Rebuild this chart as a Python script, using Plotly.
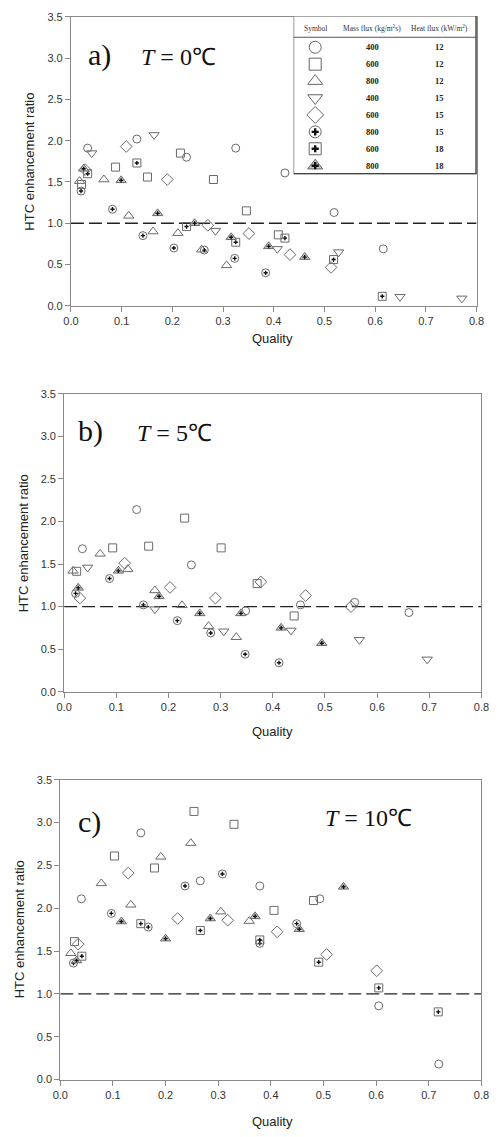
import plotly.graph_objects as go

W, H = 502, 1137

# ---------------- data (Quality, HTC enhancement ratio) ----------------
# series keys: s1 G400/q12 circle, s2 G600/q12 square, s3 G800/q12 triangle-up,
# s4 G400/q15 triangle-down, s5 G600/q15 diamond, s6 G800/q15 circle+,
# s7 G600/q18 square+, s8 G800/q18 triangle+

# Panel a) T = 0 C
a_s1_x = [0.033, 0.130, 0.228, 0.325, 0.422, 0.519, 0.616]
a_s1_y = [1.91, 2.02, 1.80, 1.91, 1.61, 1.13, 0.69]
a_s2_x = [0.021, 0.088, 0.151, 0.216, 0.281, 0.346, 0.409]
a_s2_y = [1.47, 1.68, 1.56, 1.85, 1.53, 1.15, 0.86]
a_s3_x = [0.017, 0.065, 0.114, 0.162, 0.211, 0.258, 0.307]
a_s3_y = [1.51, 1.53, 1.09, 0.90, 0.88, 0.68, 0.49]
a_s4_x = [0.041, 0.164, 0.285, 0.407, 0.528, 0.649, 0.771]
a_s4_y = [1.85, 2.07, 0.91, 0.69, 0.65, 0.11, 0.09]
a_s5_x = [0.028, 0.109, 0.190, 0.270, 0.351, 0.432, 0.513]
a_s5_y = [1.65, 1.93, 1.53, 0.975, 0.875, 0.62, 0.465]
a_s6_x = [0.020, 0.082, 0.142, 0.203, 0.263, 0.323, 0.384]
a_s6_y = [1.39, 1.17, 0.85, 0.70, 0.675, 0.575, 0.40]
a_s7_x = [0.033, 0.130, 0.228, 0.325, 0.422, 0.518, 0.614]
a_s7_y = [1.60, 1.73, 0.96, 0.77, 0.82, 0.56, 0.115]
a_s8_x = [0.025, 0.099, 0.171, 0.244, 0.316, 0.390, 0.461]
a_s8_y = [1.66, 1.52, 1.12, 1.00, 0.83, 0.72, 0.59]

# Panel b) T = 5 C
b_s1_x = [0.035, 0.139, 0.244, 0.348, 0.453, 0.557, 0.661]
b_s1_y = [1.68, 2.14, 1.49, 0.95, 1.02, 1.05, 0.93]
b_s2_x = [0.024, 0.093, 0.162, 0.231, 0.301, 0.370, 0.441]
b_s2_y = [1.415, 1.69, 1.71, 2.04, 1.69, 1.27, 0.89]
b_s3_x = [0.017, 0.069, 0.122, 0.174, 0.226, 0.277, 0.330]
b_s3_y = [1.42, 1.62, 1.44, 1.19, 1.015, 0.77, 0.64]
b_s4_x = [0.045, 0.174, 0.306, 0.435, 0.566, 0.696]
b_s4_y = [1.46, 0.97, 0.71, 0.72, 0.61, 0.38]
b_s5_x = [0.030, 0.116, 0.203, 0.290, 0.377, 0.463, 0.550]
b_s5_y = [1.10, 1.51, 1.225, 1.10, 1.29, 1.13, 1.00]
b_s6_x = [0.022, 0.087, 0.152, 0.217, 0.281, 0.347, 0.412]
b_s6_y = [1.155, 1.33, 1.02, 0.835, 0.69, 0.44, 0.34]
b_s7_x = []
b_s7_y = []
b_s8_x = [0.027, 0.104, 0.182, 0.260, 0.339, 0.416, 0.494]
b_s8_y = [1.22, 1.42, 1.12, 0.92, 0.92, 0.75, 0.57]

# Panel c) T = 10 C
c_s1_x = [0.040, 0.153, 0.266, 0.379, 0.493, 0.605, 0.719]
c_s1_y = [2.11, 2.88, 2.32, 2.26, 2.11, 0.86, 0.18]
c_s2_x = [0.027, 0.103, 0.179, 0.254, 0.330, 0.406, 0.481]
c_s2_y = [1.61, 2.61, 2.47, 3.13, 2.98, 1.975, 2.09]
c_s3_x = [0.020, 0.078, 0.134, 0.191, 0.248, 0.305, 0.359]
c_s3_y = [1.475, 2.29, 2.04, 2.60, 2.76, 1.96, 1.85]
c_s4_x = []
c_s4_y = []
c_s5_x = [0.034, 0.129, 0.223, 0.318, 0.412, 0.506, 0.601]
c_s5_y = [1.58, 2.41, 1.88, 1.86, 1.725, 1.46, 1.27]
c_s6_x = [0.025, 0.097, 0.167, 0.237, 0.308, 0.379, 0.449]
c_s6_y = [1.36, 1.94, 1.78, 2.26, 2.40, 1.59, 1.82]
c_s7_x = [0.041, 0.153, 0.266, 0.379, 0.491, 0.605, 0.718]
c_s7_y = [1.44, 1.82, 1.74, 1.63, 1.37, 1.07, 0.79]
c_s8_x = [0.031, 0.116, 0.200, 0.285, 0.370, 0.454, 0.538]
c_s8_y = [1.39, 1.845, 1.645, 1.88, 1.905, 1.755, 2.25]

# legend table
mass_flux = ["400", "600", "800", "400", "600", "800", "600", "800"]
heat_flux = ["12", "12", "12", "15", "15", "15", "18", "18"]

panel_labels = ["a)", "b)", "c)"]
panel_temps = ["0", "5", "10"]
reference_ratio = 1.0
x_ticks = [0.0, 0.1, 0.2, 0.3, 0.4, 0.5, 0.6, 0.7, 0.8]
y_ticks = [0.0, 0.5, 1.0, 1.5, 2.0, 2.5, 3.0, 3.5]

# ---------------- styles ----------------
symbols = ["circle-open", "square-open", "triangle-up-open", "triangle-down-open",
           "diamond-open", "circle-open", "square-open", "triangle-up"]
sizes = [8, 8, 9, 9, 9, 8, 8, 9]
has_plus = [False, False, False, False, False, True, True, True]
MC = "#6a6a6a"

panels = [
    [(a_s1_x, a_s1_y), (a_s2_x, a_s2_y), (a_s3_x, a_s3_y), (a_s4_x, a_s4_y),
     (a_s5_x, a_s5_y), (a_s6_x, a_s6_y), (a_s7_x, a_s7_y), (a_s8_x, a_s8_y)],
    [(b_s1_x, b_s1_y), (b_s2_x, b_s2_y), (b_s3_x, b_s3_y), (b_s4_x, b_s4_y),
     (b_s5_x, b_s5_y), (b_s6_x, b_s6_y), (b_s7_x, b_s7_y), (b_s8_x, b_s8_y)],
    [(c_s1_x, c_s1_y), (c_s2_x, c_s2_y), (c_s3_x, c_s3_y), (c_s4_x, c_s4_y),
     (c_s5_x, c_s5_y), (c_s6_x, c_s6_y), (c_s7_x, c_s7_y), (c_s8_x, c_s8_y)],
]

# pixel boxes of the three plot areas (left, right, top, bottom)
boxes = [(65, 484, 11, 303), (58, 489, 392, 693), (54, 489, 782, 1085)]
ytitle_x = [22, 16, 12]
title_y = [336, 733, 1127]
label_pos = [((94, 50), (176, 52)), ((85, 430), (172, 432)), ((84, 825), (372, 821))]

fig = go.Figure()

def px(x):
    return x / W

def py(y):
    return 1 - y / H

for p, series in enumerate(panels):
    xa = "x" if p == 0 else f"x{p+1}"
    ya = "y" if p == 0 else f"y{p+1}"
    xr = [0, max(x_ticks)]
    fig.add_trace(go.Scatter(x=xr, y=[reference_ratio, reference_ratio], mode="lines",
                             line=dict(color="#222", width=1.4, dash="13px,5px"),
                             xaxis=xa, yaxis=ya, showlegend=False, hoverinfo="skip"))
    for i, (sx, sy) in enumerate(series):
        if not sx:
            continue
        mk = dict(symbol=symbols[i], size=sizes[i], color=MC, line=dict(color=MC, width=1))
        if symbols[i] == "triangle-up":
            mk["color"] = "#c8c8c8"
        fig.add_trace(go.Scatter(x=sx, y=sy, mode="markers", marker=mk,
                                 xaxis=xa, yaxis=ya, showlegend=False))
        if has_plus[i]:
            fig.add_trace(go.Scatter(x=sx, y=sy, mode="markers",
                                     marker=dict(symbol="cross", size=3.5, color="#111",
                                                 line=dict(width=0)),
                                     xaxis=xa, yaxis=ya, showlegend=False))

axis_common = dict(showline=True, linecolor="#8a8a8a", linewidth=1, mirror=True,
                   ticks="outside", ticklen=5, tickcolor="#8a8a8a", showgrid=False,
                   zeroline=False, tickfont=dict(family="Liberation Sans", size=11, color="#333"))

layout = dict(width=W, height=H, margin=dict(l=0, r=0, t=0, b=0),
              plot_bgcolor="white", paper_bgcolor="white", showlegend=False)

for p, (l, r, t, b) in enumerate(boxes):
    xk = "xaxis" if p == 0 else f"xaxis{p+1}"
    yk = "yaxis" if p == 0 else f"yaxis{p+1}"
    anchor_x = "y" if p == 0 else f"y{p+1}"
    anchor_y = "x" if p == 0 else f"x{p+1}"
    layout[xk] = dict(axis_common, domain=[px(l), px(r)], range=[0, 0.8], tickvals=x_ticks,
                      tickformat=".1f", anchor=anchor_x)
    layout[yk] = dict(axis_common, domain=[py(b), py(t)], range=[0, 3.5], tickvals=y_ticks,
                      tickformat=".1f", anchor=anchor_y)

# legend table axis (rows indexed 0..7)
TL, TR, TT, TB = 295, 484, 10, 170
row0, rstep = 41.7, 17.1
y_top = (TT - row0) / rstep
y_bot = (TB - row0) / rstep
layout["xaxis4"] = dict(domain=[px(TL), px(TR)], range=[0, 1], visible=False, anchor="y4")
layout["yaxis4"] = dict(domain=[py(TB), py(TT)], range=[y_bot, y_top], visible=False, anchor="x4")

fig.update_layout(**layout)

rows = list(range(len(mass_flux)))
col_sym, col_g, col_q = 0.118, 0.43, 0.80
for i in rows:
    mk = dict(symbol=symbols[i], size=sizes[i] + 4, color="#666", line=dict(color="#666", width=1))
    if symbols[i] == "triangle-up":
        mk["color"] = "#c8c8c8"
    fig.add_trace(go.Scatter(x=[col_sym], y=[i], mode="markers", marker=mk,
                             xaxis="x4", yaxis="y4", showlegend=False, hoverinfo="skip"))
    if has_plus[i]:
        fig.add_trace(go.Scatter(x=[col_sym], y=[i], mode="markers",
                                 marker=dict(symbol="cross", size=6, color="#111", line=dict(width=0)),
                                 xaxis="x4", yaxis="y4", showlegend=False, hoverinfo="skip"))

shapes = [
    dict(type="rect", xref="x4", yref="y4", x0=0, x1=1, y0=y_top, y1=y_bot,
         line=dict(color="#555", width=1.2), fillcolor="white", layer="below"),
    dict(type="line", xref="x4", yref="y4", x0=0, x1=1, y0=-0.59, y1=-0.59,
         line=dict(color="#555", width=1.2)),
    dict(type="line", xref="x4", yref="y4", x0=1, x1=1, y0=y_top, y1=y_bot,
         line=dict(color="#444", width=2.5)),
    dict(type="line", xref="x4", yref="y4", x0=0, x1=1, y0=y_bot, y1=y_bot,
         line=dict(color="#444", width=2.5)),
]

ann = []
serif = "Liberation Serif"
C = dict(xanchor="center", yanchor="middle", showarrow=False)
hdr = dict(family=serif, size=7.5, color="#333")
ann.append(dict(C, x=col_sym, y=-1.11, xref="x4", yref="y4", text="Symbol", font=hdr))
ann.append(dict(C, x=col_g, y=-1.11, xref="x4", yref="y4", text="Mass flux (kg/m<sup>2</sup>s)",
                font=hdr))
ann.append(dict(C, x=col_q, y=-1.11, xref="x4", yref="y4", text="Heat flux (kW/m<sup>2</sup>)",
                font=hdr))
for i in rows:
    ann.append(dict(C, x=col_g, y=i, xref="x4", yref="y4", text=f"<b>{mass_flux[i]}</b>",
                    font=dict(family=serif, size=8.5, color="#222")))
    ann.append(dict(C, x=col_q, y=i, xref="x4", yref="y4", text=f"<b>{heat_flux[i]}</b>",
                    font=dict(family=serif, size=8.5, color="#222")))

for p, (l, r, t, b) in enumerate(boxes):
    ann.append(dict(C, x=px(ytitle_x[p]), y=py((t + b) / 2), xref="paper", yref="paper",
                    text="HTC enhancement ratio", textangle=-90,
                    font=dict(family="Liberation Sans", size=13, color="#222")))
    ann.append(dict(C, x=px(273), y=py(title_y[p]), xref="paper", yref="paper",
                    text="Quality",
                    font=dict(family="Liberation Sans", size=13, color="#222")))
    (lx, ly), (tx, ty) = label_pos[p]
    ann.append(dict(C, x=px(lx), y=py(ly), xref="paper", yref="paper", text=panel_labels[p],
                    font=dict(family=serif, size=30, color="#111")))
    ann.append(dict(C, x=px(tx), y=py(ty), xref="paper", yref="paper",
                    text=f"<i>T</i> = {panel_temps[p]}\u2103",
                    font=dict(family=serif, size=24, color="#111")))

fig.update_layout(shapes=shapes, annotations=ann)
fig.write_html("out.html")
